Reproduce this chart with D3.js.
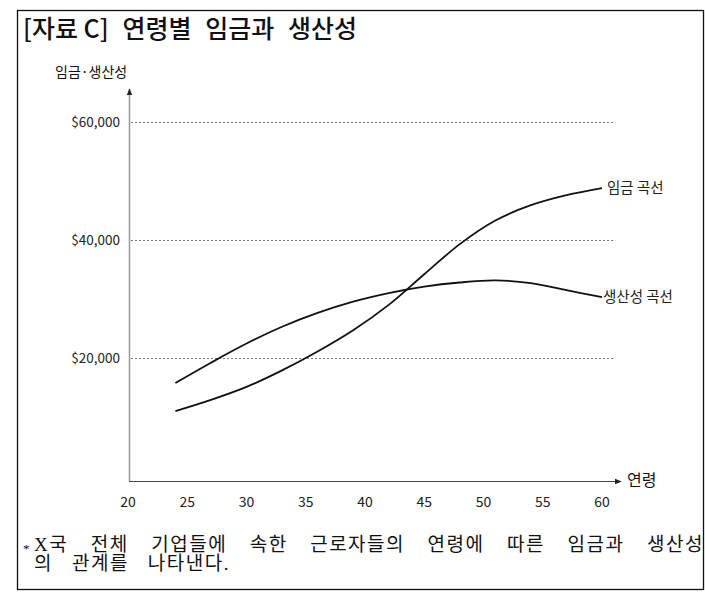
<!DOCTYPE html>
<html><head><meta charset="utf-8">
<script src="https://cdn.jsdelivr.net/npm/d3@7"></script>
<style>body{margin:0;background:#fff}svg{display:block}</style>
</head><body>
<svg id="c" width="705" height="595"></svg>
<script>
const title = "[자료 C] 연령별 임금과 생산성";
const yAxisTitle = "임금·생산성";
const xAxisTitle = "연령";
const xTicks = [20, 25, 30, 35, 40, 45, 50, 55, 60];
const yTicks = [20000, 40000, 60000];
const ages = [24, 27, 30, 33, 36, 39, 42, 45, 48, 51, 54, 57, 60];
const wage = [11000, 12900, 15100, 17900, 21100, 24700, 29000, 34200, 39300, 43300, 45900, 47600, 48800];
const productivity = [15750, 19200, 22450, 25300, 27650, 29550, 31000, 32100, 32800, 33150, 32700, 31500, 30300];
const seriesNames = ["임금 곡선", "생산성 곡선"];
const footnoteMark = "*";
const footnote = ["X국 전체 기업들에 속한 근로자들의 연령에 따른 임금과 생산성", "의 관계를 나타낸다."];

const svg = d3.select("#c");
const KR = "'Noto Sans CJK KR','Noto Sans',sans-serif";

// fit a text to a target width by widening the gaps between words
function fitWords(sel, target) {
  const n = (sel.text().match(/ /g) || []).length;
  const w = sel.node().getComputedTextLength();
  if (n > 0) sel.attr("word-spacing", Math.max(0, (target - w) / n).toFixed(2));
}

// frame
svg.append("rect").attr("x", 17.5).attr("y", 10.5).attr("width", 686).attr("height", 579)
  .attr("fill", "none").attr("stroke", "#111").attr("stroke-width", 1.3);

// title
const t = svg.append("text").attr("x", 23).attr("y", 38)
  .attr("font-family", KR).attr("font-size", 25).attr("font-weight", 500).attr("fill", "#111");
const tParts = [title.slice(0, title.indexOf("]") + 1), title.slice(title.indexOf("]") + 1)];
t.append("tspan").text(tParts[0]);
const t2 = t.append("tspan").text(tParts[1]);
{
  const w = t.node().getComputedTextLength();
  const n = (tParts[1].match(/ /g) || []).length;
  t2.attr("word-spacing", Math.max(0, (334 - w) / n).toFixed(2));
}

const x = d3.scaleLinear().domain([20, 60]).range([128, 602]);
const y = d3.scaleLinear().domain([20000, 60000]).range([358, 122]);
const axisY = 481, axisX = 129;

// grid lines
svg.append("g").selectAll("line").data(yTicks).join("line")
  .attr("x1", axisX + 2).attr("x2", 613)
  .attr("y1", d => Math.round(y(d)) + 0.5).attr("y2", d => Math.round(y(d)) + 0.5)
  .attr("stroke", "#777").attr("stroke-width", 1).attr("stroke-dasharray", "2,2");

// y tick labels
svg.append("g").selectAll("text").data(yTicks).join("text")
  .attr("x", 120).attr("y", d => y(d) + 5).attr("text-anchor", "end")
  .attr("font-family", KR).attr("font-size", 13.5).attr("fill", "#222")
  .text(d => "$" + d3.format(",")(d));

// axes
const defs = svg.append("defs");
defs.append("marker").attr("id", "arr").attr("viewBox", "0 0 10 10").attr("refX", 9).attr("refY", 5)
  .attr("markerWidth", 7).attr("markerHeight", 7).attr("orient", "auto")
  .attr("markerUnits", "userSpaceOnUse")
  .append("path").attr("d", "M0,1 L10,5 L0,9 Z").attr("fill", "#222");

svg.append("line").attr("x1", axisX + 0.5).attr("x2", axisX + 0.5).attr("y1", axisY).attr("y2", 89)
  .attr("stroke", "#999").attr("stroke-width", 1.5).attr("marker-end", "url(#arr)");
svg.append("line").attr("x1", axisX).attr("x2", 621).attr("y1", axisY + 0.5).attr("y2", axisY + 0.5)
  .attr("stroke", "#444").attr("stroke-width", 1.2).attr("marker-end", "url(#arr)");

// x tick labels
svg.append("g").selectAll("text").data(xTicks).join("text")
  .attr("x", d => x(d)).attr("y", 507).attr("text-anchor", "middle")
  .attr("font-family", KR).attr("font-size", 14).attr("fill", "#222").text(d => d);

// axis titles
svg.append("text").attr("x", 627).attr("y", 486).text(xAxisTitle)
  .attr("font-family", KR).attr("font-size", 16).attr("fill", "#111");
svg.append("text").attr("x", 55).attr("y", 77).text(yAxisTitle)
  .attr("font-family", KR).attr("font-size", 14).attr("fill", "#111");

// curves
const line = d3.line().x(d => x(d[0])).y(d => y(d[1])).curve(d3.curveCatmullRom.alpha(0.5));
const series = [wage, productivity];
svg.append("g").selectAll("path").data(series).join("path")
  .attr("d", s => line(ages.map((a, i) => [a, s[i]])))
  .attr("fill", "none").attr("stroke", "#111").attr("stroke-width", 1.8);

// series labels
svg.append("g").selectAll("text").data(seriesNames).join("text")
  .attr("x", (d, i) => i === 0 ? 607 : 603)
  .attr("y", (d, i) => y(series[i][series[i].length - 1]) + 5)
  .attr("font-family", KR).attr("font-size", 14.5).attr("fill", "#222").text(d => d);

// footnote
const SERIF = "'Liberation Serif','DejaVu Serif','Noto Sans CJK KR',serif";
svg.append("text").attr("x", 23).attr("y", 553).text(footnoteMark)
  .attr("font-family", SERIF).attr("font-size", 13).attr("fill", "#111");
const f1 = svg.append("text").attr("x", 34).attr("y", 551).text(footnote[0])
  .attr("font-family", SERIF).attr("font-size", 19).attr("letter-spacing", 1.5).attr("fill", "#111");
fitWords(f1, 670);
const f2 = svg.append("text").attr("x", 34).attr("y", 570).text(footnote[1])
  .attr("font-family", SERIF).attr("font-size", 19).attr("letter-spacing", 1.5).attr("fill", "#111");
fitWords(f2, 196);
</script>
</body></html>
